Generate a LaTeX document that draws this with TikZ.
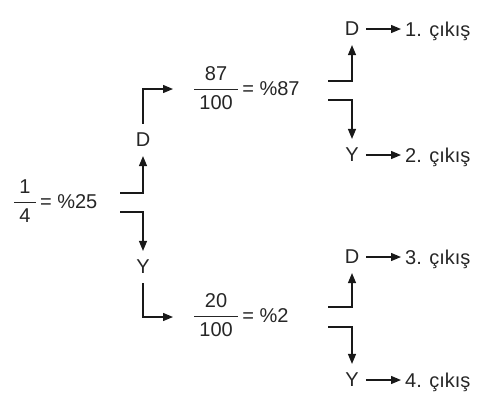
\documentclass[tikz,border=0pt]{standalone}
\usepackage{amsmath}
\usepackage{fontspec}
\setmainfont{Liberation Sans}
\usetikzlibrary{arrows.meta}
\newcommand{\kesir}[2]{$\genfrac{}{}{0.9pt}{0}{\hspace{5pt}\text{#1}\hspace{5pt}}{\hspace{5pt}\text{#2}\hspace{5pt}}$}

\begin{document}
\begin{tikzpicture}[x=1pt,y=-1pt,
  every node/.style={font=\fontsize{20}{24}\selectfont,text=black!85},
  fracnode/.style={anchor=base west,inner sep=0pt},
  lbl/.style={inner xsep=7pt,inner ysep=9pt,text depth=0pt},
  outtext/.style={anchor=west,inner xsep=4pt,text depth=0pt},
  branch/.style={black!90,line width=1.3pt,-{Triangle[length=10pt,width=8pt]}}]
  \useasboundingbox (0,0) rectangle (490,400);
  % probabilities
  \node[fracnode] (f0) at (13,208) {\kesir{1}{4}\,= \%25};
  \node[fracnode] (f1) at (193,95) {\kesir{87}{100}\,= \%87};
  \node[fracnode] (f2) at (193,322) {\kesir{20}{100}\,= \%2};
  % D / Y labels
  \node[lbl] (d1) at (143,140) {D};
  \node[lbl] (y1) at (143,267) {Y};
  \node[lbl] (d2) at (352,29) {D};
  \node[lbl] (y2) at (352,155) {Y};
  \node[lbl] (d3) at (352,257) {D};
  \node[lbl] (y3) at (352,380) {Y};
  % outputs
  \node[outtext] (o1) at (401,29) {1. çıkış};
  \node[outtext] (o2) at (401,155) {2. çıkış};
  \node[outtext] (o3) at (401,257) {3. çıkış};
  \node[outtext] (o4) at (401,380) {4. çıkış};
  % where the branch lines start and end
  \coordinate (a0) at (120,193);
  \coordinate (a1) at (120,212);
  \coordinate (p1) at (173,89);
  \coordinate (p2) at (173,317);
  \coordinate (b0) at (328,81);
  \coordinate (b1) at (328,100);
  \coordinate (c0) at (328,307);
  \coordinate (c1) at (328,327);
  \draw[branch] (a0) -| (d1);
  \draw[branch] (a1) -| (y1);
  \draw[branch] (d1) |- (p1);
  \draw[branch] (y1) |- (p2);
  \draw[branch] (b0) -| (d2);
  \draw[branch] (b1) -| (y2);
  \draw[branch] (c0) -| (d3);
  \draw[branch] (c1) -| (y3);
  \draw[branch] (d2) -- (o1);
  \draw[branch] (y2) -- (o2);
  \draw[branch] (d3) -- (o3);
  \draw[branch] (y3) -- (o4);
\end{tikzpicture}
\end{document}
